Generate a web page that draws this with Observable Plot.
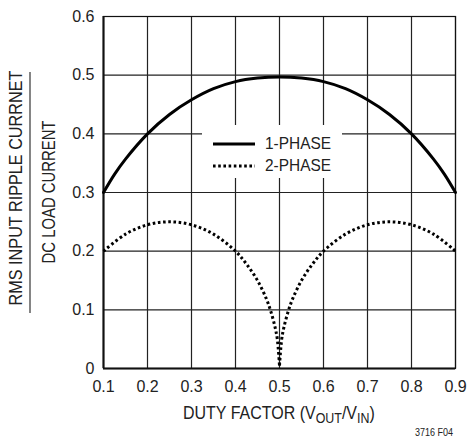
<!DOCTYPE html>
<html>
<head>
<meta charset="utf-8">
<script src="https://cdn.jsdelivr.net/npm/d3@7"></script>
<script src="https://cdn.jsdelivr.net/npm/@observablehq/plot@0.6"></script>
<style>
  body { margin: 0; background: #fff; }
  #wrap { position: relative; width: 470px; height: 443px; font-family: "Liberation Sans", Arial, sans-serif; color: #222; }
  .abs { position: absolute; white-space: nowrap; }
</style>
</head>
<body>
<div id="wrap"></div>
<script>
// Duty factor D and normalized RMS input ripple current
const duty1 = [0.1, 0.125, 0.15, 0.2, 0.25, 0.3, 0.35, 0.4, 0.45, 0.5, 0.55, 0.6, 0.65, 0.7, 0.75, 0.8, 0.85, 0.875, 0.9];
const phase1 = [0.30, 0.331, 0.357, 0.40, 0.433, 0.458, 0.477, 0.489, 0.495, 0.497, 0.495, 0.489, 0.477, 0.458, 0.433, 0.40, 0.357, 0.331, 0.30];

const duty2a = [0.1, 0.15, 0.2, 0.25, 0.3, 0.35, 0.4, 0.425, 0.45, 0.47, 0.48, 0.49, 0.495, 0.5];
const phase2a = [0.20, 0.229, 0.245, 0.25, 0.245, 0.229, 0.20, 0.178, 0.15, 0.119, 0.098, 0.07, 0.05, 0.005];
const duty2b = [0.5, 0.505, 0.51, 0.52, 0.53, 0.55, 0.575, 0.6, 0.65, 0.7, 0.75, 0.8, 0.85, 0.9];
const phase2b = [0.005, 0.05, 0.07, 0.098, 0.119, 0.15, 0.178, 0.20, 0.229, 0.245, 0.25, 0.245, 0.229, 0.20];

const xTicks = [0.1, 0.2, 0.3, 0.4, 0.5, 0.6, 0.7, 0.8, 0.9];
const yTicks = [0, 0.1, 0.2, 0.3, 0.4, 0.5, 0.6];
const yTickLabels = ["0", "0.1", "0.2", "0.3", "0.4", "0.5", "0.6"];
const seriesNames = ["1-PHASE", "2-PHASE"];

const s1 = duty1.map((d, i) => ({d, v: phase1[i]}));
const s2a = duty2a.map((d, i) => ({d, v: phase2a[i]}));
const s2b = duty2b.map((d, i) => ({d, v: phase2b[i]}));

const dots = {stroke: "#000", strokeWidth: 3, strokeDasharray: "2.6,2.6", strokeLinecap: "butt", curve: "catmull-rom"};

const chart = Plot.plot({
  width: 470,
  height: 400,
  marginLeft: 103,
  marginRight: 15,
  marginTop: 16,
  marginBottom: 32,
  style: {fontFamily: "'Liberation Sans', Arial, sans-serif", fontSize: "16px", color: "#222", background: "white"},
  x: {domain: [0.1, 0.9], ticks: xTicks, tickSize: 0, tickPadding: 12, label: null, tickFormat: d => String(d)},
  y: {domain: [0, 0.6], ticks: yTicks, tickSize: 0, tickPadding: 9, label: null, tickFormat: d => yTickLabels[yTicks.indexOf(d)]},
  marks: [
    Plot.ruleX(xTicks, {stroke: "#222", strokeWidth: 1.2}),
    Plot.ruleY(yTicks, {stroke: "#222", strokeWidth: 1.2}),
    Plot.frame({stroke: "#111", strokeWidth: 1.2}),
    Plot.ruleX([0.1], {stroke: "#111", strokeWidth: 2}),
    Plot.ruleY([0], {stroke: "#111", strokeWidth: 2}),
    Plot.line(s1, {x: "d", y: "v", stroke: "#000", strokeWidth: 3, curve: "catmull-rom"}),
    Plot.line(s2a, {x: "d", y: "v", ...dots}),
    Plot.line(s2b, {x: "d", y: "v", ...dots})
  ]
});
chart.style.position = "absolute";
chart.style.left = "0px";
chart.style.top = "0px";

const wrap = document.getElementById("wrap");
wrap.appendChild(chart);

const FF = "'Liberation Sans', Arial, sans-serif";

// Legend (white box over the grid)
const legend = document.createElement("div");
legend.className = "abs";
legend.style.cssText += "left:202px;top:125px;width:140px;height:53px;background:#fff;";
legend.innerHTML = `
<svg width="140" height="53" style="display:block">
  <line x1="11" x2="53" y1="19" y2="19" stroke="#000" stroke-width="3"/>
  <line x1="11" x2="53" y1="41" y2="41" stroke="#000" stroke-width="3" stroke-dasharray="2.6,2.6"/>
  <g font-family="${FF}" font-size="16.5" fill="#222">
    <text class="fit" data-x="63" data-y="24" data-w="66" data-r="0" text-anchor="start">${seriesNames[0]}</text>
    <text class="fit" data-x="63" data-y="46" data-w="66" data-r="0" text-anchor="start">${seriesNames[1]}</text>
  </g>
</svg>`;
wrap.appendChild(legend);

// Titles overlay
const ov = document.createElement("div");
ov.className = "abs";
ov.style.left = "0px";
ov.style.top = "0px";
ov.style.pointerEvents = "none";
ov.innerHTML = `
<svg width="470" height="443" style="display:block">
  <g font-family="${FF}" font-size="18" fill="#222">
    <text class="fit" data-x="22" data-y="188" data-w="235" data-r="1" text-anchor="middle">RMS INPUT RIPPLE CURRNET</text>
    <text class="fit" data-x="55" data-y="192" data-w="143" data-r="1" text-anchor="middle">DC LOAD CURRENT</text>
    <text class="fit" data-x="183" data-y="419" data-w="192" data-r="0" text-anchor="start">DUTY FACTOR (V<tspan font-size="14" dy="4">OUT</tspan><tspan dy="-4">/V</tspan><tspan font-size="14" dy="4">IN</tspan><tspan dy="-4">)</tspan></text>
    <text class="fit" data-x="415" data-y="436" data-w="38" data-r="0" text-anchor="start" font-size="11">3716 F04</text>
  </g>
  <line x1="30" x2="30" y1="72" y2="313" stroke="#333" stroke-width="1.2"/>
</svg>`;
wrap.appendChild(ov);

// Condense text horizontally to the widths seen in the reference
document.querySelectorAll("text.fit").forEach(t => {
  const w0 = t.getBBox().width;
  const s = +t.dataset.w / w0;
  const x = t.dataset.x, y = t.dataset.y;
  const rot = t.dataset.r === "1" ? " rotate(-90)" : "";
  t.setAttribute("transform", `translate(${x},${y})${rot} scale(${s},1)`);
});
</script>
</body>
</html>
